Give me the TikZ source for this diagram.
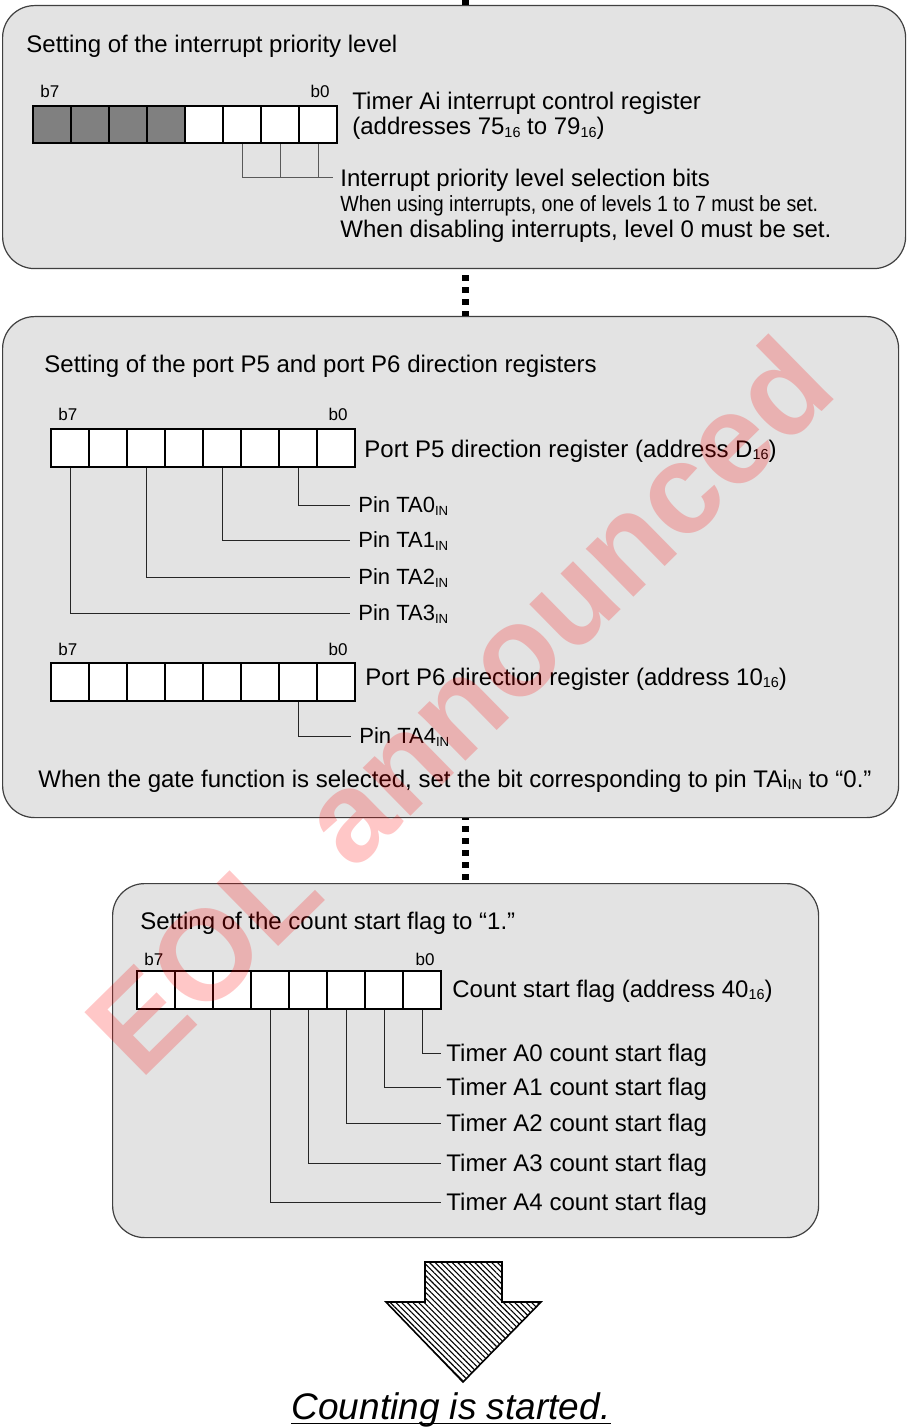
\documentclass[tikz,border=0pt]{standalone}
\usepackage{fontspec}
\usepackage{graphicx}
\setmainfont{Liberation Sans}
\newfontfamily\narrowfont[FakeStretch=0.89]{Liberation Sans}
\usetikzlibrary{patterns.meta}

% small index text (16, IN)
\newcommand\lo[1]{\raisebox{-0.2ex}{\scalebox{0.6}{#1}}}

\tikzset{
  panel/.style={draw=black!75, line width=0.6pt, fill=black!11,
    rounded corners=16pt, anchor=north west, inner sep=0pt},
  cell/.style={draw, line width=1pt, fill=white, minimum width=19pt,
    minimum height=18.75pt, inner sep=0pt, anchor=north west},
  darkcell/.style={cell, fill=black!50},
  lead/.style={line width=0.5pt, black!85},
  conn/.style={line width=3.5pt, dash pattern=on 3pt off 3pt},
  txt/.style={inner sep=0pt, anchor=base west, font=\fontsize{12}{14}\selectfont},
  bit/.style={inner sep=0pt, font=\fontsize{8.5}{10}\selectfont},
  pin/.style={inner xsep=4pt, inner ysep=0pt, text depth=0pt, anchor=west,
    font=\fontsize{11}{13}\selectfont},
  flag/.style={inner xsep=2.5pt, inner ysep=0pt, text depth=0pt, anchor=west,
    font=\fontsize{12}{14}\selectfont},
}

\begin{document}
\begin{tikzpicture}[x=0.5pt, y=-0.5pt]
  \path[use as bounding box, fill=white] (0,0) rectangle (907,1427);

  % panels
  \node[panel, minimum width=451.5pt, minimum height=131.5pt] (box1) at (2,5) {};
  \node[panel, minimum width=448pt, minimum height=250.5pt] (box2) at (2,316) {};
  \node[panel, minimum width=353pt, minimum height=177pt] (box3) at (112,883) {};

  % dotted flow between the panels
  \coordinate (top) at (465,0);
  \draw[conn] (top) -- (top |- box1.north);
  \draw[conn, dash phase=3pt] (box1.south -| top) -- (box2.north -| top);
  \draw[conn, dash phase=2pt] (box2.south -| top) -- (box3.north -| top);

  % interrupt priority level
  \node[txt] (t1) at (26,53) {Setting of the interrupt priority level};
  \foreach \i in {0,...,3} \node[darkcell] (ic\i) at ({32+38*\i},105) {};
  \foreach \i in {4,...,7} \node[cell] (ic\i) at ({32+38*\i},105) {};
  \node[bit, anchor=base west] (ib7) at ([shift={(8,-7)}]ic0.north west) {b7};
  \node[bit, anchor=base east] (ib0) at ([shift={(-8,-7)}]ic7.north east) {b0};
  \node[txt] (icr) at (352,110) {Timer Ai interrupt control register};
  \node[txt] (icra) at (352,135) {(addresses 75\lo{16} to 79\lo{16})};
  \node[txt, anchor=west, inner xsep=3.5pt, text depth=0pt] (sel) at (333,178)
    {Interrupt priority level selection bits};
  \node[txt, font=\narrowfont\fontsize{11}{13}\selectfont] (use) at (340,212)
    {When using interrupts, one of levels 1 to 7 must be set.};
  \node[txt] (dis) at (340,238) {When disabling interrupts, level 0 must be set.};
  \foreach \i in {5,6,7} \draw[lead, black!65] (ic\i.south) |- (sel.west);

  % port direction registers
  \node[txt] (t2) at (44,372) {Setting of the port P5 and port P6 direction registers};
  \foreach \i in {0,...,7} \node[cell] (p5c\i) at ({50+38*\i},428) {};
  \node[bit, anchor=base west] (p5b7) at ([shift={(8,-7)}]p5c0.north west) {b7};
  \node[bit, anchor=base east] (p5b0) at ([shift={(-8,-7)}]p5c7.north east) {b0};
  \node[txt] (p5) at (364,457) {Port P5 direction register (address D\lo{16})};
  \foreach \i/\n/\y in {6/0/505, 4/1/540, 2/2/577, 0/3/613} {
    \node[pin] (ta\n) at (350,\y) {Pin TA\n\lo{IN}};
    \draw[lead] (p5c\i.south) |- (ta\n.west);
  }
  \foreach \i in {0,...,7} \node[cell] (p6c\i) at ({50+38*\i},662) {};
  \node[bit, anchor=base west] (p6b7) at ([shift={(8,-7)}]p6c0.north west) {b7};
  \node[bit, anchor=base east] (p6b0) at ([shift={(-8,-7)}]p6c7.north east) {b0};
  \node[txt] (p6) at (365,685) {Port P6 direction register (address 10\lo{16})};
  \node[pin] (ta4) at (351,736) {Pin TA4\lo{IN}};
  \draw[lead] (p6c6.south) |- (ta4.west);
  \node[txt] (gate) at (38,787)
    {When the gate function is selected, set the bit corresponding to pin TAi\lo{IN} to “0.”};

  % count start flag
  \node[txt] (t3) at (140,929) {Setting of the count start flag to “1.”};
  \foreach \i in {0,...,7} \node[cell] (fc\i) at ({136+38*\i},970) {};
  \node[bit, anchor=base west] (fb7) at ([shift={(8,-5)}]fc0.north west) {b7};
  \node[bit, anchor=base east] (fb0) at ([shift={(-7,-5)}]fc7.north east) {b0};
  \node[txt] (csf) at (452,997) {Count start flag (address 40\lo{16})};
  \foreach \i/\n/\y in {7/0/1053, 6/1/1087, 5/2/1123, 4/3/1163, 3/4/1202} {
    \node[flag] (a\n) at (441,\y) {Timer A\n{} count start flag};
    \draw[lead] (fc\i.south) |- (a\n.west);
  }

  % result
  \draw[line width=0.8pt, pattern={Lines[angle=-45, distance=2pt, line width=0.55pt]}]
    (425,1262) -- (502,1262) -- (502,1302) -- (541,1302) -- (463,1382)
    -- (386,1302) -- (425,1302) -- cycle;
  \node[inner sep=0pt, anchor=base, font=\fontsize{18.5}{22}\selectfont\itshape]
    (done) at (451,1419) {Counting is started.};
  \draw[line width=0.8pt] ([yshift=-2.2pt]done.base west) -- ([yshift=-2.2pt]done.base east);

  % watermark
  \node[rotate=44.5, anchor=base west, inner sep=0pt, text=red, text opacity=0.22,
    font=\fontsize{64}{64}\selectfont\bfseries] (eol) at (140,1082) {EOL announced};
\end{tikzpicture}
\end{document}
